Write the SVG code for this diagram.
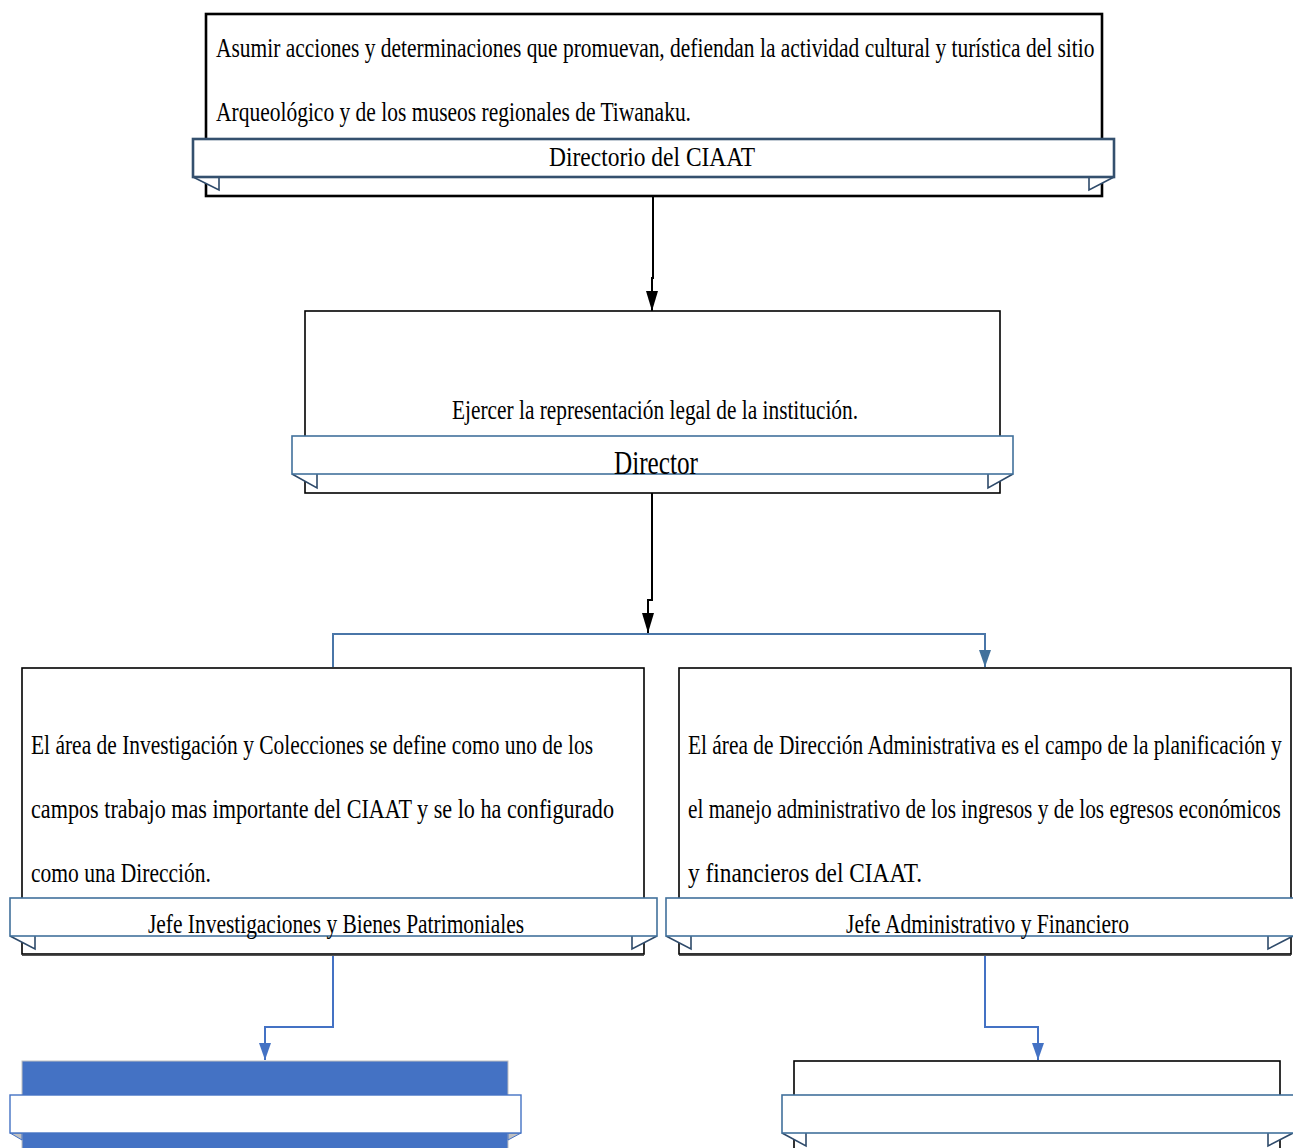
<svg xmlns="http://www.w3.org/2000/svg" width="1293" height="1148" viewBox="0 0 1293 1148">
<style>
text{font-family:"Liberation Serif","Times New Roman",serif;fill:#000;}
.t{font-size:27px;}
.c{text-anchor:middle;}
.box{fill:#fff;stroke:#000;stroke-width:1.6;}
.ban{fill:#fff;stroke:#41719c;stroke-width:1.6;}
.ban2{fill:#fff;stroke:#34506e;stroke-width:2.6;}
.fold{fill:#fff;stroke:#2e4a6a;stroke-width:1.6;}
.conk{fill:none;stroke:#000;stroke-width:2;}
.conb{fill:none;stroke:#4a76a8;stroke-width:2;}
.conb2{fill:none;stroke:#4472c4;stroke-width:2;}
</style>
<defs>
<marker id="ak" viewBox="0 0 20 12" refX="20" refY="6" markerWidth="10" markerHeight="6" markerUnits="strokeWidth" orient="auto"><path d="M0,0 L20,6 L0,12 z" fill="#000"/></marker>
<marker id="ab" viewBox="0 0 17 12" refX="17" refY="6" markerWidth="8.5" markerHeight="6" markerUnits="strokeWidth" orient="auto"><path d="M0,0 L17,6 L0,12 z" fill="#41719c"/></marker>
<marker id="ab2" viewBox="0 0 17 12" refX="17" refY="6" markerWidth="8.5" markerHeight="6" markerUnits="strokeWidth" orient="auto"><path d="M0,0 L17,6 L0,12 z" fill="#4472c4"/></marker>
</defs>

<g id="connectors">
<path class="conk" d="M653,196 V278 H652 V311" marker-end="url(#ak)"/>
<path class="conk" d="M652,493 V600 H648 V633" marker-end="url(#ak)"/>
<path class="conb" d="M333,667 V634 H985 V667" marker-end="url(#ab)"/>
<path class="conb2" d="M333,955 V1027 H265 V1060" marker-end="url(#ab2)"/>
<path class="conb2" d="M985,955 V1027 H1038 V1060" marker-end="url(#ab2)"/>
</g>

<g id="node-directorio">
<rect x="206" y="14" width="896" height="182" fill="#fff" stroke="#000" stroke-width="2.6"/>
<text class="t" transform="translate(216,57) scale(0.8,1)" x="0" y="0" textLength="1098" lengthAdjust="spacingAndGlyphs">Asumir acciones y determinaciones que promuevan, defiendan la actividad cultural y turística del sitio</text>
<text class="t" x="216" y="121" textLength="475" lengthAdjust="spacingAndGlyphs">Arqueológico y de los museos regionales de Tiwanaku.</text>
<path class="fold" d="M193,177 L219,190 V177"/>
<path class="fold" d="M1114,177 L1089,190 V177"/>
<rect class="ban2" x="193" y="139" width="921" height="38"/>
<text class="t c" x="652" y="166" textLength="206" lengthAdjust="spacingAndGlyphs">Directorio del CIAAT</text>
</g>

<g id="node-director">
<rect class="box" x="305" y="311" width="695" height="182"/>
<text class="t" x="452" y="419" textLength="406" lengthAdjust="spacingAndGlyphs">Ejercer la representación legal de la institución.</text>
<path class="fold" d="M292,474 L317,488 V474"/>
<path class="fold" d="M1013,474 L988,488 V474"/>
<rect class="ban" x="292" y="436" width="721" height="38"/>
<text x="614" y="474" font-size="34" textLength="84" lengthAdjust="spacingAndGlyphs">Director</text>
</g>

<g id="node-investigaciones">
<rect class="box" x="22" y="668" width="622" height="286"/>
<line x1="22" y1="955.5" x2="644" y2="955.5" stroke="#555" stroke-width="1"/>
<text class="t" x="31" y="754" textLength="562" lengthAdjust="spacingAndGlyphs">El área de Investigación y Colecciones se define como uno de los</text>
<text class="t" x="31" y="818" textLength="583" lengthAdjust="spacingAndGlyphs">campos trabajo mas importante del CIAAT y se lo ha configurado</text>
<text class="t" x="31" y="882" textLength="180" lengthAdjust="spacingAndGlyphs">como una Dirección.</text>
<path class="fold" d="M10,936 L35,949 V936"/>
<path class="fold" d="M657,936 L632,949 V936"/>
<rect class="ban" x="10" y="898" width="647" height="38"/>
<text class="t" x="148" y="933" textLength="376" lengthAdjust="spacingAndGlyphs">Jefe Investigaciones y Bienes Patrimoniales</text>
</g>

<g id="node-administrativo">
<rect class="box" x="679" y="668" width="612" height="286"/>
<line x1="679" y1="955.5" x2="1291" y2="955.5" stroke="#555" stroke-width="1"/>
<text class="t" transform="translate(688,754) scale(0.8,1)" x="0" y="0" textLength="742" lengthAdjust="spacingAndGlyphs">El área de Dirección Administrativa es el campo de la planificación y</text>
<text class="t" transform="translate(688,818) scale(0.8,1)" x="0" y="0" textLength="741" lengthAdjust="spacingAndGlyphs">el manejo administrativo de los ingresos y de los egresos económicos</text>
<text class="t" x="688" y="882" textLength="234" lengthAdjust="spacingAndGlyphs">y financieros del CIAAT.</text>
<path class="fold" d="M666,936 L691,949 V936"/>
<path class="fold" d="M1293,936 L1268,949 V936"/>
<rect class="ban" x="666" y="898" width="630" height="38"/>
<text class="t" x="846" y="933" textLength="283" lengthAdjust="spacingAndGlyphs">Jefe Administrativo y Financiero</text>
</g>

<g id="node-bottom-left">
<rect x="22" y="1061" width="486" height="100" fill="#4472c4" stroke="#bfbfbf" stroke-width="1"/>
<path d="M10,1133 L22,1140 V1133 z" fill="#c0c0c0" stroke="#4472c4" stroke-width="1"/>
<path d="M521,1133 L508,1140 V1133 z" fill="#c0c0c0" stroke="#4472c4" stroke-width="1"/>
<rect x="10" y="1095" width="511" height="38" fill="#fff" stroke="#4472c4" stroke-width="1.4"/>
</g>

<g id="node-bottom-right">
<rect class="box" x="794" y="1061" width="486" height="100"/>
<path class="fold" d="M782,1133 L806,1146 V1133"/>
<path class="fold" d="M1293,1133 L1268,1146 V1133"/>
<rect class="ban" x="782" y="1095" width="514" height="38"/>
</g>
</svg>
